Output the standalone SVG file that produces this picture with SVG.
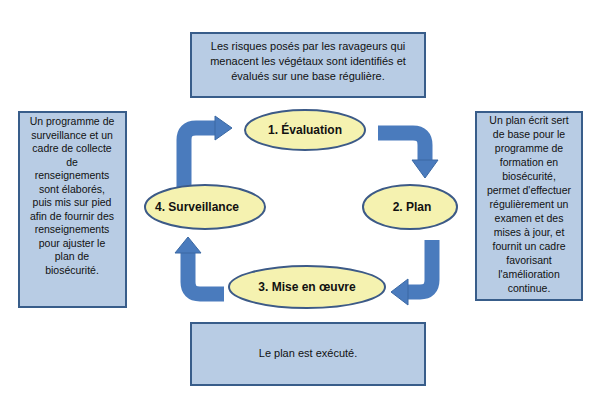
<svg xmlns="http://www.w3.org/2000/svg" width="600" height="406" viewBox="0 0 600 406">
<style>
.box{fill:#b8cce4;stroke:#385d8a;stroke-width:2}
.ell{fill:#f5f2b0;stroke:#3c5a87;stroke-width:2}
.t{font-family:"Liberation Sans",Arial,sans-serif;font-size:10.5px;fill:#111;text-anchor:middle}
.b{font-family:"Liberation Sans",Arial,sans-serif;font-size:12px;font-weight:bold;fill:#111;text-anchor:middle}
.sh{fill:none;stroke:#4a7bbd;stroke-width:15}
.hd{fill:#4a7bbd;stroke:#3a68a3;stroke-width:1}
</style>
<rect width="600" height="406" fill="#fff"/>
<g id="top"><rect class="box" x="191" y="33" width="234" height="64"/>
<text class="t" style="font-size:11px"><tspan x="308" y="50">Les risques posés par les ravageurs qui</tspan><tspan x="308" y="65">menacent les végétaux sont identifiés et</tspan><tspan x="308" y="80">évalués sur une base régulière.</tspan></text></g>
<g id="bottom"><rect class="box" x="191" y="323" width="234" height="62"/>
<text class="t" style="font-size:11px" x="308" y="357">Le plan est exécuté.</text></g>
<g id="left"><rect class="box" x="19" y="112" width="107" height="195"/>
<text class="t"><tspan x="72" y="125">Un programme de</tspan><tspan x="72" y="138.5">surveillance et un</tspan><tspan x="72" y="152">cadre de collecte</tspan><tspan x="72" y="165.5">de</tspan><tspan x="72" y="179">renseignements</tspan><tspan x="72" y="192.5">sont élaborés,</tspan><tspan x="72" y="206">puis mis sur pied</tspan><tspan x="72" y="219.5">afin de fournir des</tspan><tspan x="72" y="233">renseignements</tspan><tspan x="72" y="246.5">pour ajuster le</tspan><tspan x="72" y="260">plan de</tspan><tspan x="72" y="273.5">biosécurité.</tspan></text></g>
<g id="right"><rect class="box" x="476" y="112" width="106" height="188"/>
<text class="t"><tspan x="529" y="124">Un plan écrit sert</tspan><tspan x="529" y="138">de base pour le</tspan><tspan x="529" y="152">programme de</tspan><tspan x="529" y="166">formation en</tspan><tspan x="529" y="180">biosécurité,</tspan><tspan x="529" y="194">permet d'effectuer</tspan><tspan x="529" y="208">régulièrement un</tspan><tspan x="529" y="222">examen et des</tspan><tspan x="529" y="236">mises à jour, et</tspan><tspan x="529" y="250">fournit un cadre</tspan><tspan x="529" y="264">favorisant</tspan><tspan x="529" y="278">l'amélioration</tspan><tspan x="529" y="292">continue.</tspan></text></g>
<g id="connectors">
<path class="sh" d="M184 190 V140 Q184 128 196 128 H216"/>
<polygon class="hd" points="215,116 232,128 215,140"/>
<path class="sh" d="M378 133 H413 Q425 133 425 145 V160"/>
<polygon class="hd" points="412,160 438,160 425,178"/>
<path class="sh" d="M432 240 V280 Q432 292 420 292 H408"/>
<polygon class="hd" points="408,279 408,305 391,292"/>
<path class="sh" d="M224 294 H200 Q188 294 188 282 V253"/>
<polygon class="hd" points="175,253 201,253 188,237"/>
</g>
<g id="n1"><ellipse class="ell" cx="305" cy="130" rx="60" ry="20"/><text class="b" x="305" y="134">1. Évaluation</text></g>
<g id="n2"><ellipse class="ell" cx="410" cy="207" rx="47" ry="22"/><text class="b" x="412" y="211">2. Plan</text></g>
<g id="n3"><ellipse class="ell" cx="307" cy="287" rx="78" ry="21"/><text class="b" x="307" y="291">3. Mise en œuvre</text></g>
<g id="n4"><ellipse class="ell" cx="205" cy="207" rx="60" ry="22"/><text class="b" x="197" y="211">4. Surveillance</text></g>
</svg>
